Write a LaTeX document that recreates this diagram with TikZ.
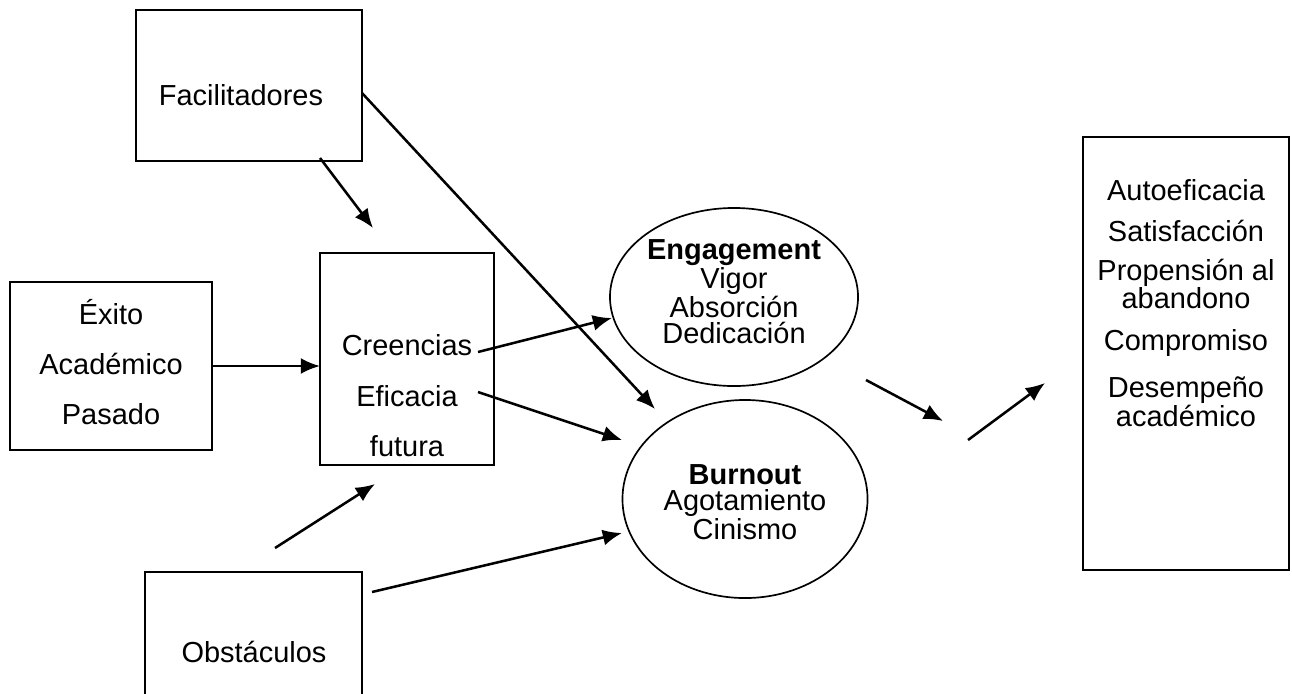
\documentclass[tikz,border=0pt]{standalone}
\usepackage{fontspec}
\setmainfont{Liberation Sans}
\usetikzlibrary{arrows.meta}
\usetikzlibrary{shapes.geometric}

\tikzset{
  box/.style={draw,line width=0.9pt,inner sep=0pt,outer sep=0pt},
  oval/.style={draw,ellipse,line width=1.2pt,inner sep=0pt,outer sep=0pt},
  txt/.style={font=\fontsize{20.6}{19}\selectfont,align=center,inner sep=0pt},
  link/.style={->,line width=1.8pt}
}

\begin{document}
\begin{tikzpicture}[x=0.025cm,y=-0.025cm,>={Latex[length=4.8mm,width=4mm]}]
      \clip (0,0) rectangle (1292,693);
      \node[box,minimum width=5.65cm,minimum height=3.775cm] (fac) at (249,85.5) {};
      \node[txt] (factxt) at (241,95) {Facilitadores};
      \node[box,minimum width=5.05cm,minimum height=4.2cm] (exito) at (111,366) {};
      \node[txt,font=\fontsize{20.6}{35.4}\selectfont] (exitotxt) at (111,362) {Éxito\\Académico\\Pasado};
      \node[box,minimum width=4.35cm,minimum height=5.3cm] (cree) at (407,359) {};
      \node[txt,font=\fontsize{20.6}{36}\selectfont] (creetxt) at (407,396) {Creencias\\Eficacia\\futura};
      \node[box,minimum width=5.425cm,minimum height=3.7cm] (obs) at (253.5,646) {};
      \node[txt] (obstxt) at (254,652) {Obstáculos};
      \node[oval,minimum width=6.2cm,minimum height=4.45cm] (eng) at (734,297) {};
      \node[txt] (engtxt) at (734,292) {\textbf{Engagement}\\Vigor\\Absorción\\Dedicación};
      \node[oval,minimum width=6.125cm,minimum height=4.95cm] (burn) at (745,499) {};
      \node[txt] (burntxt) at (745,502) {\textbf{Burnout}\\Agotamiento\\Cinismo};
      \node[box,minimum width=5.15cm,minimum height=10.825cm] (res) at (1186,353.5) {};
      \node[txt] (restxt) at (1186,303) {Autoeficacia\\[10.2pt]Satisfacción\\[8.7pt]Propensión al\\abandono\\[10.9pt]Compromiso\\[13.7pt]Desempeño\\académico};
      \coordinate (f1) at (362,93);
      \coordinate (f2) at (655,409);
      \coordinate (g1) at (320,158);
      \coordinate (g2) at (373,228);
      \coordinate (c1) at (478,352);
      \coordinate (c2) at (612,318);
      \coordinate (c3) at (478,392);
      \coordinate (c4) at (622,440);
      \coordinate (o1) at (275,548);
      \coordinate (o2) at (375,484);
      \coordinate (o3) at (372,592);
      \coordinate (o4) at (622,533);
      \coordinate (e1) at (866,380);
      \coordinate (e2) at (943,421);
      \coordinate (b1) at (968,440);
      \coordinate (b2) at (1045,383);
      \draw[link] (f1) -- (f2);
      \draw[link] (g1) -- (g2);
      \draw[link] (exito.east) -- (exito.east -| cree.west);
      \draw[link] (c1) -- (c2);
      \draw[link] (c3) -- (c4);
      \draw[link] (o1) -- (o2);
      \draw[link] (o3) -- (o4);
      \draw[link] (e1) -- (e2);
      \draw[link] (b1) -- (b2);
    \end{tikzpicture}
\end{document}
